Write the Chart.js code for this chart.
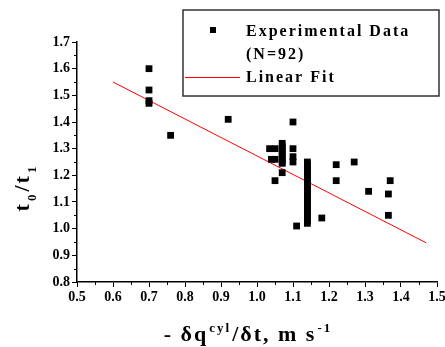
<!DOCTYPE html>
<html>
<head>
<meta charset="utf-8">
<script src="https://cdn.jsdelivr.net/npm/chart.js@4/dist/chart.umd.min.js"></script>
<style>
  html, body { margin: 0; padding: 0; background: #fff; }
  #wrap { width: 445px; height: 347px; }
</style>
</head>
<body>
<div id="wrap"><canvas id="chart"></canvas></div>
<script>
// measured points (x = -dq/dt, y = t0/t1)
const xValues = [
  0.70, 0.70, 0.70, 0.70,
  0.76, 0.92,
  1.035, 1.05, 1.04, 1.05, 1.05,
  1.07, 1.07, 1.07, 1.07, 1.07, 1.07, 1.07, 1.07, 1.07, 1.07,
  1.10, 1.10, 1.10, 1.10, 1.11,
  1.14, 1.14, 1.14, 1.14, 1.14, 1.14, 1.14, 1.14, 1.14, 1.14, 1.14, 1.14,
  1.14, 1.14, 1.14, 1.14, 1.14, 1.14, 1.14, 1.14, 1.14, 1.14, 1.14, 1.14,
  1.18, 1.22, 1.22, 1.27, 1.31, 1.37, 1.365, 1.365
];
const yValues = [
  1.60, 1.52, 1.48, 1.47,
  1.35, 1.41,
  1.30, 1.30, 1.26, 1.26, 1.18,
  1.32, 1.31, 1.30, 1.29, 1.28, 1.27, 1.26, 1.25, 1.245, 1.21,
  1.40, 1.30, 1.27, 1.25, 1.01,
  1.25, 1.24, 1.23, 1.22, 1.21, 1.20, 1.19, 1.18, 1.17, 1.16, 1.15, 1.14,
  1.13, 1.12, 1.11, 1.10, 1.09, 1.08, 1.07, 1.06, 1.05, 1.04, 1.03, 1.02,
  1.04, 1.24, 1.18, 1.25, 1.14, 1.18, 1.13, 1.05
];
// linear fit end points
const fitX = [0.60, 1.47];
const fitY = [1.55, 0.947];

const xTicks = [0.5, 0.6, 0.7, 0.8, 0.9, 1.0, 1.1, 1.2, 1.3, 1.4, 1.5];
const yTicks = [0.8, 0.9, 1.0, 1.1, 1.2, 1.3, 1.4, 1.5, 1.6, 1.7];

const SERIF = '"Liberation Serif", "DejaVu Serif", serif';

const scatterData = xValues.map((x, i) => ({ x, y: yValues[i] }));
const fitData = fitX.map((x, i) => ({ x, y: fitY[i] }));

// draw a run of [text, size, dy] pieces left to right
function drawPieces(ctx, pieces, x, y, spacing) {
  let cx = x;
  pieces.forEach(([t, size, dy]) => {
    ctx.font = `bold ${size}px ${SERIF}`;
    ctx.fillText(t, cx, y + dy);
    cx += ctx.measureText(t).width + spacing;
  });
}
function piecesWidth(ctx, pieces, spacing) {
  let w = 0;
  pieces.forEach(([t, size]) => {
    ctx.font = `bold ${size}px ${SERIF}`;
    w += ctx.measureText(t).width + spacing;
  });
  return w - spacing;
}

const extras = {
  id: "extras",
  afterDraw(chart) {
    const ctx = chart.ctx;
    const xs = chart.scales.x, ys = chart.scales.y;
    ctx.save();
    ctx.strokeStyle = "#000";
    ctx.lineWidth = 1;

    // minor ticks
    for (let i = 0; i < xTicks.length - 1; i++) {
      const px = Math.round(xs.getPixelForValue((xTicks[i] + xTicks[i + 1]) / 2)) + 0.5;
      ctx.beginPath(); ctx.moveTo(px, xs.top); ctx.lineTo(px, xs.top + 3); ctx.stroke();
    }
    for (let i = 0; i < yTicks.length - 1; i++) {
      const py = Math.round(ys.getPixelForValue((yTicks[i] + yTicks[i + 1]) / 2)) + 0.5;
      ctx.beginPath(); ctx.moveTo(ys.right, py); ctx.lineTo(ys.right - 3, py); ctx.stroke();
    }

    // legend
    ctx.fillStyle = "#fff";
    ctx.fillRect(183, 10, 256, 86);
    ctx.strokeStyle = "#333";
    ctx.lineWidth = 1.5;
    ctx.strokeRect(183, 10, 256, 86);
    const pts = chart.data.datasets[0], fit = chart.data.datasets[1];
    ctx.fillStyle = pts.backgroundColor;
    ctx.fillRect(210, 27, 6, 6);
    ctx.strokeStyle = fit.borderColor;
    ctx.lineWidth = 1;
    ctx.beginPath(); ctx.moveTo(185, 77.5); ctx.lineTo(240, 77.5); ctx.stroke();
    ctx.fillStyle = "#000";
    ctx.textBaseline = "alphabetic";
    ctx.textAlign = "left";
    ctx.letterSpacing = "2px";
    ctx.font = `bold 16px ${SERIF}`;
    const lines = pts.label.split("\n");
    ctx.fillText(lines[0], 246, 36);
    ctx.fillText(lines[1], 246, 59);
    ctx.fillText(fit.label, 246, 82);

    // x axis title
    const xt = [["- \u03b4q", 22, 0], ["cyl", 13, -9], ["/\u03b4t, m s", 22, 0], ["-1", 13, -9]];
    const w = piecesWidth(ctx, xt, 1);
    drawPieces(ctx, xt, 248 - w / 2, 341, 1);

    // y axis title
    ctx.translate(29, 188);
    ctx.rotate(-Math.PI / 2);
    const yt = [["t", 22, 0], ["0", 13, 7], ["/t", 22, 0], ["1", 13, 7]];
    const wy = piecesWidth(ctx, yt, 1);
    drawPieces(ctx, yt, -wy / 2, 0, 1);
    ctx.restore();
  },
};

new Chart(document.getElementById("chart"), {
  type: "scatter",
  data: {
    datasets: [
      {
        label: "Experimental Data\n(N=92)",
        data: scatterData,
        pointStyle: "rect",
        pointRadius: 4.8,
        pointHoverRadius: 4.8,
        backgroundColor: "#000",
        borderColor: "#000",
        borderWidth: 0,
      },
      {
        type: "line",
        label: "Linear Fit",
        data: fitData,
        borderColor: "#ff0000",
        borderWidth: 1,
        pointRadius: 0,
        fill: false,
      },
    ],
  },
  plugins: [extras],
  options: {
    responsive: true,
    maintainAspectRatio: false,
    animation: false,
    events: [],
    layout: { padding: { left: 0, right: 8, top: 42, bottom: 0 } },
    plugins: { legend: { display: false }, tooltip: { enabled: false } },
    scales: {
      x: {
        type: "linear",
        min: 0.5,
        max: 1.5,
        afterBuildTicks: (s) => { s.ticks = xTicks.map((v) => ({ value: v })); },
        afterFit: (s) => { s.height = 65; s.paddingRight = 0; },
        border: { color: "#000", width: 1.5 },
        grid: { drawOnChartArea: false, tickLength: 5, color: "#000" },
        ticks: {
          color: "#000",
          padding: 2,
          maxRotation: 0,
          font: { family: SERIF, size: 14, weight: "bold" },
          callback: (v) => Number(v).toFixed(1),
        },
      },
      y: {
        type: "linear",
        min: 0.8,
        max: 1.7,
        afterBuildTicks: (s) => { s.ticks = yTicks.map((v) => ({ value: v })); },
        afterFit: (s) => { s.width = 77; },
        border: { color: "#000", width: 1.5 },
        grid: { drawOnChartArea: false, tickLength: 5, color: "#000" },
        ticks: {
          color: "#000",
          padding: 2,
          font: { family: SERIF, size: 14, weight: "bold" },
          callback: (v) => Number(v).toFixed(1),
        },
      },
    },
  },
});
</script>
</body>
</html>
